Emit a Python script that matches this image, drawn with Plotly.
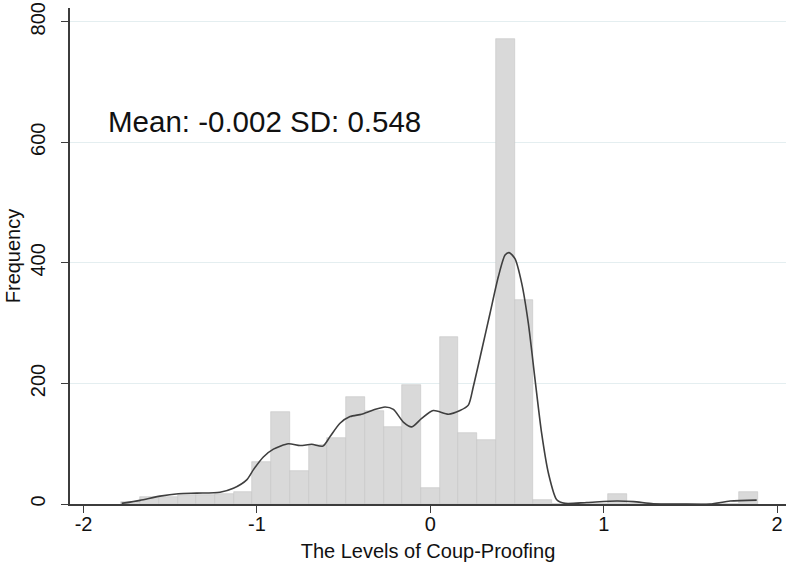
import plotly.graph_objects as go

# Histogram bins (centers) and frequencies
bin_centers = [-1.728, -1.620, -1.512, -1.404, -1.296, -1.188, -1.080, -0.972,
               -0.864, -0.756, -0.648, -0.540, -0.432, -0.324, -0.216, -0.108,
               0.000, 0.108, 0.216, 0.324, 0.432, 0.540, 0.648, 0.756,
               0.864, 0.972, 1.080, 1.188, 1.296, 1.404, 1.512, 1.620,
               1.728, 1.836]
frequencies = [3, 11, 12, 15, 15, 17, 20, 69,
               153, 54, 98, 110, 178, 155, 127, 197,
               26, 277, 117, 107, 772, 339, 7, 0,
               0, 0, 16, 0, 0, 0, 0, 0,
               0, 20]
bin_width = 0.108

# Kernel density curve (scaled to frequency)
kd_x = [-1.780, -1.674, -1.559, -1.453, -1.347, -1.213, -1.136, -1.059, -1.020,
        -0.963, -0.905, -0.819, -0.751, -0.684, -0.620, -0.578, -0.521, -0.463,
        -0.396, -0.329, -0.261, -0.213, -0.156, -0.107, -0.050, 0.017, 0.104,
        0.171, 0.219, 0.248, 0.296, 0.344, 0.392, 0.431, 0.454, 0.488, 0.527,
        0.565, 0.604, 0.642, 0.681, 0.729, 0.777, 0.902, 1.075, 1.171, 1.286,
        1.440, 1.613, 1.729, 1.882]
kd_y = [1, 6, 13, 17, 18, 19.5, 26, 40, 57,
        78, 91, 100, 97, 99, 96, 112, 134, 145,
        149, 156, 161, 157, 136, 128, 142, 155, 149,
        155, 164, 195, 255, 316, 377, 413, 417, 407, 366,
        300, 206, 117, 51, 7, 1, 2.5, 5, 4, 0.5,
        0, 0, 5, 6.5]

x_ticks = [-2, -1, 0, 1, 2]
x_tick_labels = ["-2", "-1", "0", "1", "2"]
y_ticks = [0, 200, 400, 600, 800]
y_tick_labels = ["0", "200", "400", "600", "800"]
stats_text = "Mean: -0.002 SD: 0.548"

FONT = "Liberation Sans, Arial, sans-serif"

fig = go.Figure()
fig.add_trace(go.Bar(
    x=bin_centers, y=frequencies, width=bin_width,
    marker=dict(color="#d9d9d9", line=dict(color="#c6c6c6", width=0.6)),
    showlegend=False, hoverinfo="x+y"))
fig.add_trace(go.Scatter(
    x=kd_x, y=kd_y, mode="lines",
    line=dict(color="#3f3f3f", width=1.6, shape="spline", smoothing=0.7),
    showlegend=False))

fig.add_annotation(x=-1.870, y=635, xref="x", yref="y", text=stats_text,
                   showarrow=False, xanchor="left", yanchor="middle",
                   font=dict(family=FONT, size=29.5, color="#111111"))

fig.update_layout(
    width=786, height=569,
    margin=dict(l=70, r=0, t=8, b=65, autoexpand=False),
    paper_bgcolor="white", plot_bgcolor="white",
    bargap=0,
    font=dict(family=FONT, size=20, color="#111111"),
    xaxis=dict(range=[-2.078, 2.051], tickvals=x_ticks, ticktext=x_tick_labels,
               ticks="outside", ticklen=7, tickwidth=1.3, tickcolor="#3c3c3c",
               showline=True, linecolor="#3c3c3c", linewidth=1.5,
               showgrid=False, zeroline=False, ticklabelstandoff=-6,
               ticklabeloverflow="allow",
               tickfont=dict(size=20),
               title=dict(text="The Levels of Coup-Proofing",
                          font=dict(size=20), standoff=10)),
    yaxis=dict(range=[0, 822.8], tickvals=y_ticks, ticktext=y_tick_labels,
               ticks="outside", ticklen=7, tickwidth=1.3, tickcolor="#3c3c3c",
               showline=True, linecolor="#3c3c3c", linewidth=1.5,
               showgrid=True, gridcolor="#e4eef0", gridwidth=1,
               zeroline=False, tickangle=-90, ticklabelstandoff=8,
               ticklabeloverflow="allow",
               tickfont=dict(size=20),
               title=dict(text="Frequency", font=dict(size=20), standoff=1)),
)

# remove the page's default body margin so the figure fills the window
fig.write_html("out.html",
               config={"displayModeBar": False},
               post_script="document.body.style.margin='0px';")
